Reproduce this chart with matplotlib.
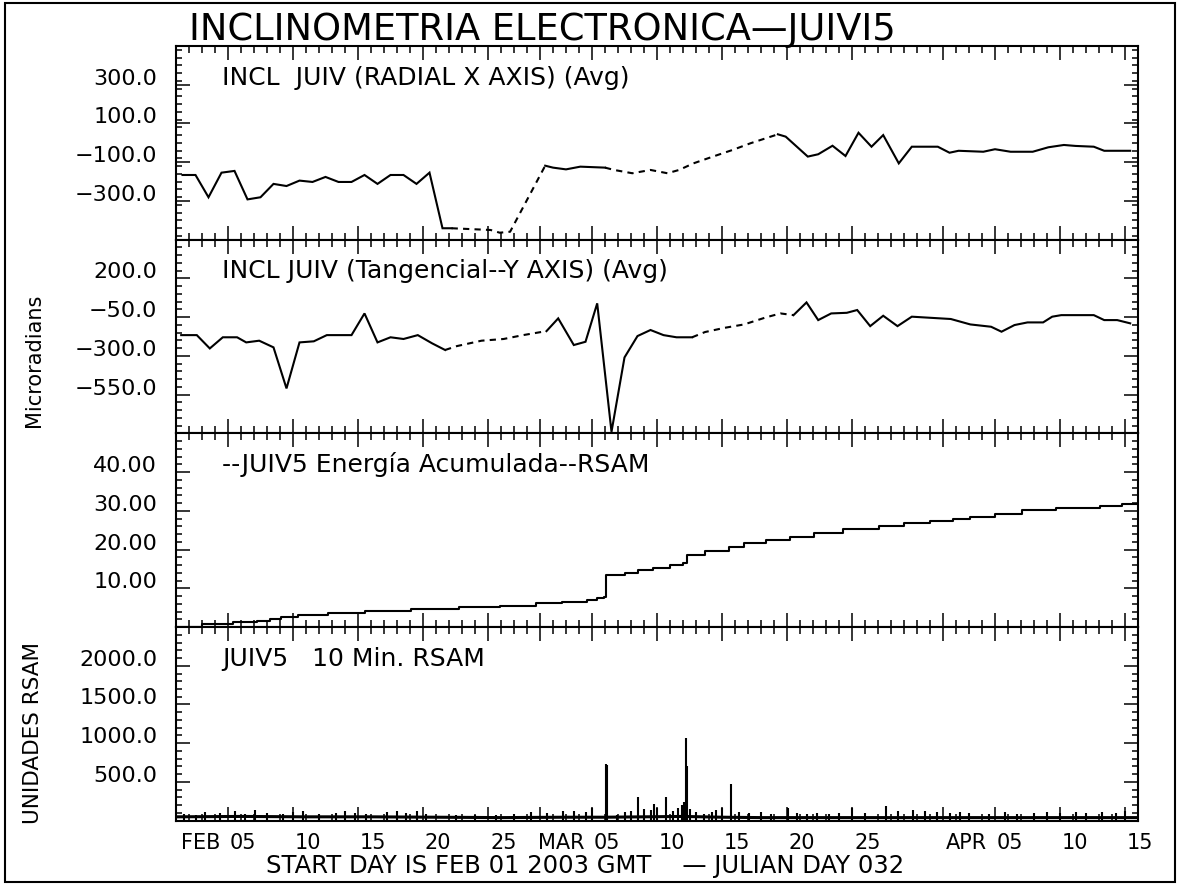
import numpy as np
import matplotlib
matplotlib.use('Agg')
import matplotlib.pyplot as plt
import matplotlib.transforms as mtransforms
from matplotlib.patches import Rectangle
from matplotlib.ticker import FixedLocator, MultipleLocator, FuncFormatter

plt.rcParams['font.family'] = ['DejaVu Sans']

# days counted from FEB 01 2003 00:00 GMT
radial_days = [0.5, 1.5, 2.5, 3.5, 4.5, 5.5, 6.5, 7.5, 8.5, 9.5, 10.5, 11.5, 12.5, 13.5,
               14.5, 15.5, 16.5, 17.5, 18.5, 19.5, 20.5, 21.2, 24.2, 24.9, 25.7, 28.4,
               29.0, 30.0, 31.1, 33.0, 33.7, 35.1, 36.5, 37.8, 38.7, 39.8, 41.3, 42.8,
               44.2, 46.3, 46.9, 48.6, 49.4, 50.5, 51.5, 52.5, 53.5, 54.4, 55.6, 56.6,
               58.6, 59.5, 60.2, 62.1, 63.0, 64.2, 65.9, 67.1, 68.3, 69.2, 70.6, 71.4, 73.4]
radial_vals = [-166, -166, -281, -154, -145, -292, -281, -212, -223, -195, -202, -176, -202, -202,
               -166, -212, -166, -166, -212, -154, -441, -441, -450, -464, -459, -118,
               -128, -137, -123, -128, -140, -157, -140, -157, -140, -106, -71, -37,
               -2, 44, 32, -71, -59, -15, -68, 52, -20, 40, -106, -20,
               -20, -51, -41, -46, -33, -46, -46, -23, -11, -16, -20, -41, -41]
radial_gaps = [(21.2, 28.4), (33.0, 46.3)]

tang_days = [0.4, 1.6, 2.6, 3.6, 4.7, 5.4, 6.4, 7.5, 8.5, 9.5, 10.6, 11.6, 13.5, 14.5,
             15.5, 16.5, 17.5, 18.6, 19.7, 20.7, 21.6, 23.5, 25.2, 26.7, 28.5, 29.4,
             30.6, 31.5, 32.4, 33.5, 34.5, 35.5, 36.5, 37.5, 38.5, 39.7, 40.7, 42.2,
             43.7, 45.4, 46.5, 47.5, 48.5, 49.4, 50.4, 51.6, 52.4, 53.4, 54.4, 55.5,
             56.6, 59.6, 61.1, 62.7, 63.5, 64.5, 65.5, 66.7, 67.4, 68.1, 70.6, 71.4, 72.4, 73.4]
tang_vals = [-166, -166, -252, -180, -180, -213, -202, -245, -510, -213, -206, -166, -166, -26,
             -213, -180, -191, -166, -219, -262, -237, -202, -191, -166, -140, -58,
             -230, -209, 39, -790, -310, -172, -133, -166, -180, -180, -146, -119,
             -97, -51, -26, -37, 45, -69, -26, -22, -4, -108, -41, -108,
             -47, -62, -97, -112, -144, -101, -84, -84, -47, -37, -37, -69, -69, -90]
tang_gaps = [(20.7, 28.5), (39.7, 47.5)]

energy_days = [0.0, 2.0, 4.4, 6.2, 7.2, 8.1, 9.4, 11.7, 14.5, 18.1, 21.8, 24.9, 27.7, 29.7,
               31.6, 32.4, 32.9, 33.1, 34.5, 35.5, 36.7, 38.0, 39.0, 39.3, 40.7, 42.5,
               43.7, 45.4, 47.2, 49.1, 51.3, 54.1, 56.0, 58.0, 59.8, 61.1, 63.0, 65.1,
               67.7, 71.1, 72.8, 74.0]
energy_vals = [0.1, 0.8, 1.3, 1.6, 2.0, 2.7, 3.1, 3.7, 4.2, 4.6, 5.1, 5.5, 6.1, 6.5,
               7.0, 7.4, 7.8, 13.4, 13.9, 14.6, 15.3, 16.0, 16.4, 18.6, 19.7, 20.7,
               21.6, 22.5, 23.3, 24.3, 25.2, 26.1, 26.8, 27.4, 27.9, 28.5, 29.3, 30.2,
               30.6, 31.2, 31.7, 31.7]

rsam_base_days = [0, 5, 10, 15, 20, 25, 30, 33, 36, 39, 42, 45, 50, 55, 60, 65, 70, 74]
rsam_base_vals = [50, 55, 50, 50, 45, 40, 45, 45, 50, 55, 45, 40, 40, 40, 40, 40, 40, 40]
spike_days = [0.6, 1.5, 2.2, 3.4, 4.5, 5.3, 6.1, 7.0, 8.2, 9.0, 9.8, 11.0, 12.3, 13.0,
              13.8, 14.6, 16.2, 17.0, 17.7, 18.5, 19.2, 21.5, 23.0, 24.6, 26.0, 27.3,
              28.5, 29.8, 30.6, 31.5, 32.0, 33.08, 33.13, 33.9, 34.5, 35.0, 35.5, 36.0,
              36.5, 36.8, 37.0, 37.7, 38.2, 38.6, 38.9, 39.1, 39.2, 39.3, 39.5, 40.0,
              40.6, 41.2, 41.5, 42.0, 42.7, 43.3, 44.1, 45.0, 45.8, 47.1, 47.8, 48.5,
              49.3, 50.2, 51.0, 52.0, 53.0, 54.6, 55.5, 56.7, 57.6, 58.5, 59.5, 60.3,
              61.0, 62.5, 63.8, 64.7, 66.0, 67.0, 68.0, 69.2, 70.0, 71.2, 72.3, 73.0]
spike_vals = [90, 80, 110, 100, 120, 90, 140, 100, 90, 110, 130, 90, 100, 120,
              100, 90, 110, 130, 100, 120, 90, 80, 80, 80, 90, 110,
              100, 120, 130, 110, 163, 732, 725, 80, 110, 130, 310, 150,
              140, 212, 164, 310, 120, 170, 200, 245, 1063, 706, 150, 110,
              90, 110, 138, 168, 470, 110, 100, 110, 90, 160, 100, 90,
              100, 90, 100, 168, 100, 190, 120, 138, 120, 110, 100, 110,
              100, 90, 110, 90, 100, 110, 100, 110, 100, 116, 100, 120]

xtick_days = [4, 9, 14, 19, 24, 28, 32, 37, 42, 47, 52, 59, 63, 68, 73]
xtick_labels = ['FEB 05', '10', '15', '20', '25', '', 'MAR 05', '10', '15', '20', '25', '',
                'APR 05', '10', '15']

panel_titles = ['INCL  JUIV (RADIAL X AXIS) (Avg)',
                'INCL JUIV (Tangencial--Y AXIS) (Avg)',
                '--JUIV5 Energía Acumulada--RSAM',
                'JUIV5   10 Min. RSAM']
panel_ylim = [(-500, 500), (-800, 450), (0, 50), (0, 2500)]
panel_yticks = [[-300, -100, 100, 300], [-550, -300, -50, 200], [10, 20, 30, 40],
                [500, 1000, 1500, 2000]]
panel_ydec = [1, 1, 2, 1]

LW = 1.5


def draw_trace(ax, days, vals, gaps):
    # solid where samples are consecutive, dashed across the listed gaps
    days = np.asarray(days, float)
    vals = np.asarray(vals, float)
    mid = (days[:-1] + days[1:]) / 2
    dashed = np.zeros(len(mid), bool)
    for a, b in gaps:
        dashed |= (mid > a) & (mid < b)
    start = 0
    for i in range(1, len(mid) + 1):
        if i == len(mid) or dashed[i] != dashed[start]:
            ls = (0, (3, 2.5)) if dashed[start] else '-'
            ax.plot(days[start:i + 1], vals[start:i + 1], color='k', lw=LW, ls=ls,
                    solid_joinstyle='miter')
            start = i


fig = plt.figure(figsize=(11.77, 8.85), dpi=100)
W, H = 1177.0, 885.0
left, right, top, bottom = 176 / W, 1138 / W, 1 - 46 / H, 1 - 820.7 / H
ph = (top - bottom) / 4

axes = []
for k in range(4):
    ax = fig.add_axes([left, top - (k + 1) * ph, right - left, ph])
    axes.append(ax)
    ax.set_xlim(0, 74)
    ax.set_ylim(*panel_ylim[k])
    ax.xaxis.set_major_locator(FixedLocator(xtick_days))
    ax.xaxis.set_minor_locator(MultipleLocator(1))
    ax.yaxis.set_major_locator(FixedLocator(panel_yticks[k]))
    step = panel_yticks[k][1] - panel_yticks[k][0]
    ax.yaxis.set_minor_locator(MultipleLocator(step / 5))
    dec = panel_ydec[k]
    ax.yaxis.set_major_formatter(FuncFormatter(
        lambda v, p, d=dec: f'{v:.{d}f}'.replace('-', '\u2212')))
    ax.tick_params(axis='both', which='both', direction='in', top=True, right=True,
                   labelbottom=False, width=1.1, labelsize=16, color='k')
    ax.tick_params(axis='x', which='major', length=10)
    ax.tick_params(axis='x', which='minor', length=5)
    ax.tick_params(axis='y', which='major', length=10, pad=13.5)
    ax.tick_params(axis='y', which='minor', length=4.5)
    for t in ax.get_yticklabels():
        t.set_va('baseline')
    for s in ax.spines.values():
        s.set_linewidth(LW)
    ax.text(0.048, 0.80, panel_titles[k], transform=ax.transAxes, fontsize=18,
            ha='left', va='baseline')

ax1, ax2, ax3, ax4 = axes
draw_trace(ax1, radial_days, radial_vals, radial_gaps)
draw_trace(ax2, tang_days, tang_vals, tang_gaps)
ax3.step(energy_days, energy_vals, where='post', color='k', lw=LW)
ax4.plot(rsam_base_days, rsam_base_vals, color='k', lw=2.2)
ax4.vlines(spike_days, 0, spike_vals, color='k', lw=1.5)

# date labels under the last panel: day number right of the tick, month to its left
lab_tr = mtransforms.offset_copy(ax4.get_xaxis_transform(), fig=fig, x=2, y=-12, units='dots')
mon_tr = mtransforms.offset_copy(ax4.get_xaxis_transform(), fig=fig, x=-8, y=-12, units='dots')
for d, lab in zip(xtick_days, xtick_labels):
    if not lab:
        continue
    parts = lab.split()
    ax4.text(d, 0, parts[-1], transform=lab_tr, ha='left', va='top', fontsize=15)
    if len(parts) > 1:
        ax4.text(d, 0, parts[0], transform=mon_tr, ha='right', va='top', fontsize=15)

fig.text(189 / W, 1 - 40 / H, 'INCLINOMETRIA ELECTRONICA\u2014JUIVI5', fontsize=26.5,
         ha='left', va='baseline')
fig.text(34 / W, 1 - 360 / H, 'Microradians', rotation=90, fontsize=15,
         ha='center', va='center')
fig.text(33 / W, 1 - 733 / H, 'UNIDADES RSAM', rotation=90, fontsize=15.5,
         ha='center', va='center')
fig.text(266 / W, 1 - 873 / H, 'START DAY IS FEB 01 2003 GMT    \u2014 JULIAN DAY 032',
         fontsize=17.5, ha='left', va='baseline')

fig.patches.append(Rectangle((5 / W, 1 - 882 / H), 1170 / W, 879 / H, fill=False,
                             lw=1.5, ec='k', transform=fig.transFigure, figure=fig))

fig.savefig('out.png', dpi=100)
